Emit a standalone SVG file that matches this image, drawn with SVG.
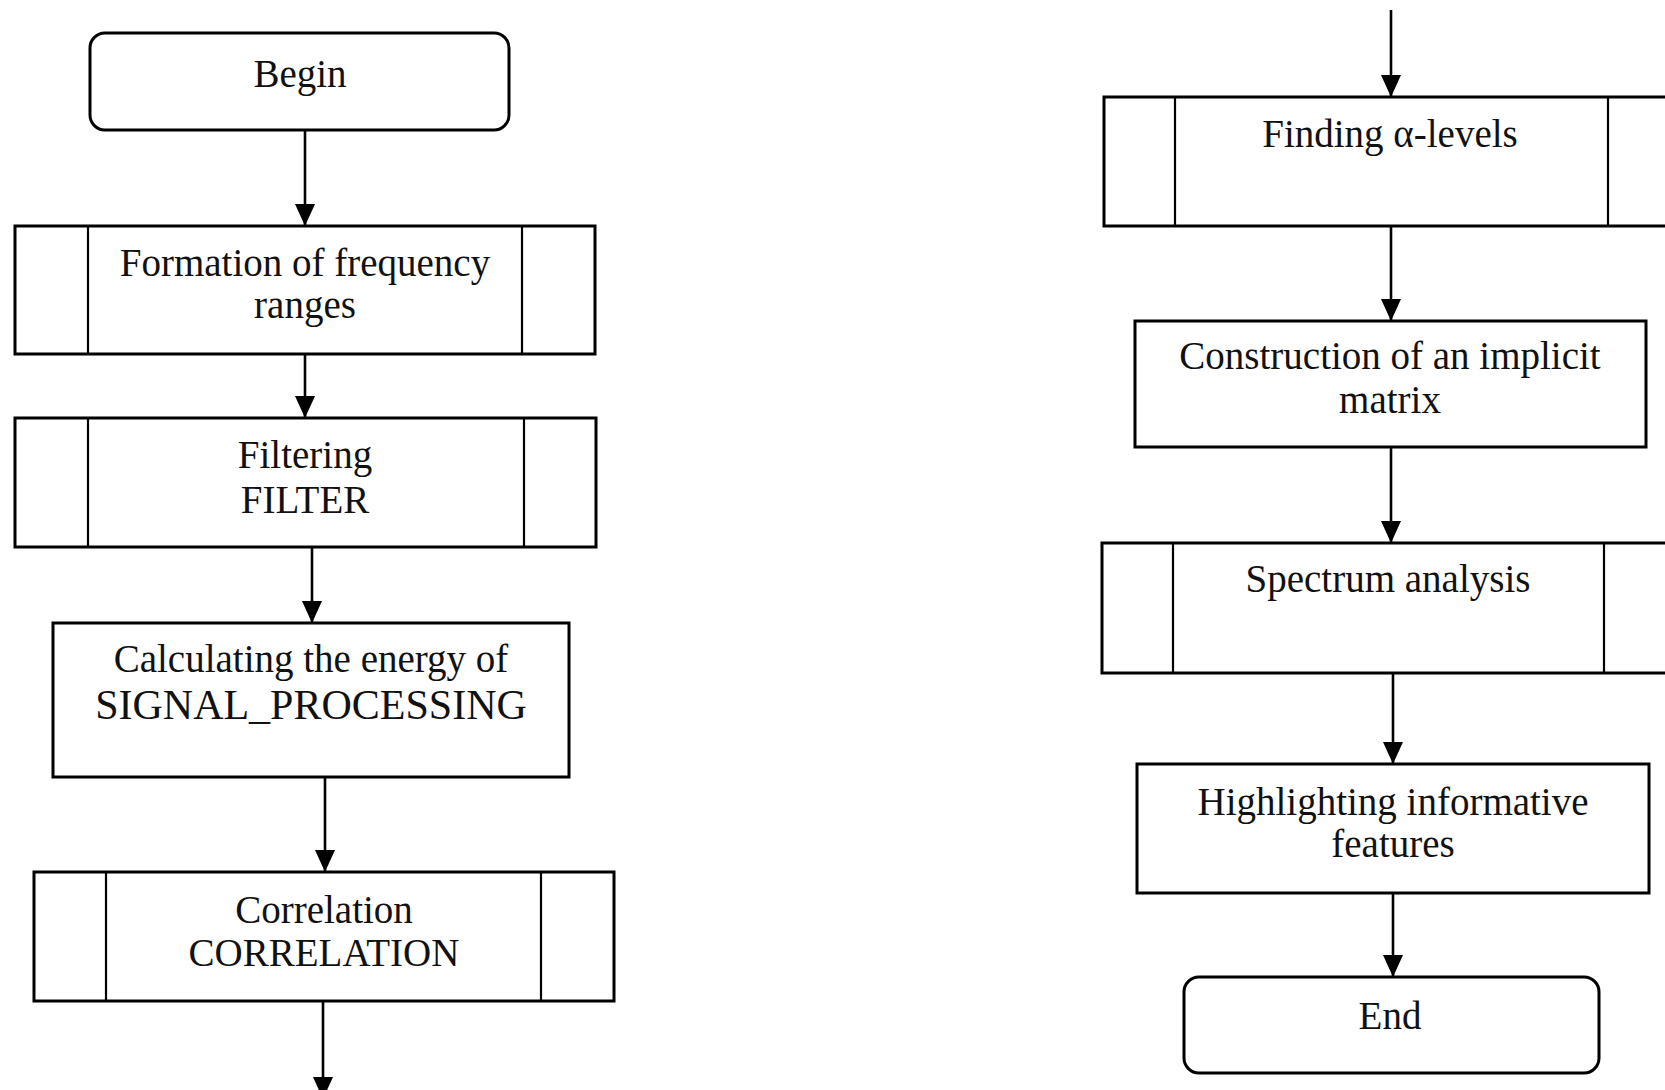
<svg xmlns="http://www.w3.org/2000/svg" width="1665" height="1090" viewBox="0 0 1665 1090">
<style>
.box{fill:#fff;stroke:#000;stroke-width:3}
.inner{stroke:#000;stroke-width:2.2;fill:none}
.lbl{font-family:"Liberation Serif","Times New Roman",serif;font-size:39px;fill:#111;text-anchor:middle}
.con{stroke:#000;stroke-width:2.6;fill:none;marker-end:url(#arr)}
</style>
<defs>
<marker id="arr" markerUnits="userSpaceOnUse" markerWidth="22" markerHeight="20" viewBox="0 0 22 20" refX="22" refY="10" orient="auto">
<path d="M0,0 L22,10 L0,20 Z" fill="#000"/>
</marker>
</defs>
<rect width="1665" height="1090" fill="#fff"/>
<g id="connectors">
<line class="con" x1="305" y1="130" x2="305" y2="226"/>
<line class="con" x1="305" y1="354" x2="305" y2="418"/>
<line class="con" x1="312" y1="547" x2="312" y2="623"/>
<line class="con" x1="325" y1="777" x2="325" y2="872"/>
<line class="con" x1="323" y1="1001" x2="323" y2="1099"/>
<line class="con" x1="1391" y1="10" x2="1391" y2="97"/>
<line class="con" x1="1391" y1="226" x2="1391" y2="321"/>
<line class="con" x1="1391" y1="447" x2="1391" y2="543"/>
<line class="con" x1="1393" y1="673" x2="1393" y2="764"/>
<line class="con" x1="1393" y1="893" x2="1393" y2="977"/>
</g>
<g id="begin">
<rect class="box" x="90" y="33" width="419" height="97" rx="15"/>
<text class="lbl" x="300" y="87">Begin</text>
</g>
<g id="formation">
<rect class="box" x="15" y="226" width="580" height="128"/>
<line class="inner" x1="88" y1="226" x2="88" y2="354"/>
<line class="inner" x1="522" y1="226" x2="522" y2="354"/>
<text class="lbl" x="305" y="276">Formation of frequency</text>
<text class="lbl" x="305" y="318">ranges</text>
</g>
<g id="filtering">
<rect class="box" x="15" y="418" width="581" height="129"/>
<line class="inner" x1="88" y1="418" x2="88" y2="547"/>
<line class="inner" x1="524" y1="418" x2="524" y2="547"/>
<text class="lbl" x="305" y="468">Filtering</text>
<text class="lbl" x="305" y="513">FILTER</text>
</g>
<g id="calculating">
<rect class="box" x="53" y="623" width="516" height="154"/>
<text class="lbl" x="311" y="672">Calculating the energy of</text>
<text class="lbl" x="311" y="719" style="font-size:42px">SIGNAL_PROCESSING</text>
</g>
<g id="correlation">
<rect class="box" x="34" y="872" width="580" height="129"/>
<line class="inner" x1="106" y1="872" x2="106" y2="1001"/>
<line class="inner" x1="541" y1="872" x2="541" y2="1001"/>
<text class="lbl" x="324" y="923">Correlation</text>
<text class="lbl" x="324" y="966">CORRELATION</text>
</g>
<g id="finding">
<rect class="box" x="1104" y="97" width="580" height="129"/>
<line class="inner" x1="1175" y1="97" x2="1175" y2="226"/>
<line class="inner" x1="1608" y1="97" x2="1608" y2="226"/>
<text class="lbl" x="1390" y="147">Finding α-levels</text>
</g>
<g id="construction">
<rect class="box" x="1135" y="321" width="511" height="126"/>
<text class="lbl" x="1390" y="369">Construction of an implicit</text>
<text class="lbl" x="1390" y="413">matrix</text>
</g>
<g id="spectrum">
<rect class="box" x="1102" y="543" width="580" height="130"/>
<line class="inner" x1="1173" y1="543" x2="1173" y2="673"/>
<line class="inner" x1="1604" y1="543" x2="1604" y2="673"/>
<text class="lbl" x="1388" y="592">Spectrum analysis</text>
</g>
<g id="highlighting">
<rect class="box" x="1137" y="764" width="512" height="129"/>
<text class="lbl" x="1393" y="815">Highlighting informative</text>
<text class="lbl" x="1393" y="857">features</text>
</g>
<g id="end">
<rect class="box" x="1184" y="977" width="415" height="96" rx="15"/>
<text class="lbl" x="1390" y="1029">End</text>
</g>
</svg>
